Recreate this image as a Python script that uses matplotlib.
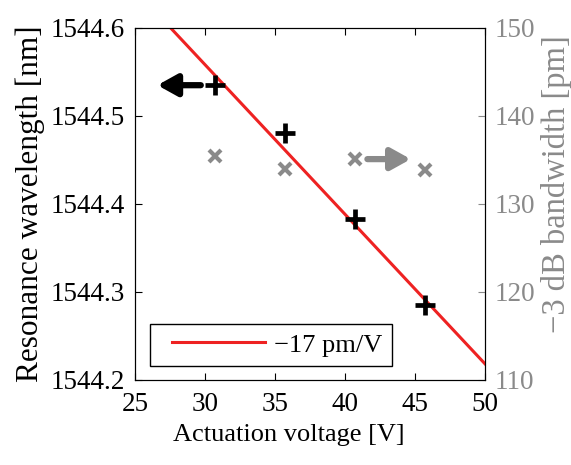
import numpy as np
import matplotlib.pyplot as plt
from matplotlib.legend_handler import HandlerLine2D

plt.rcParams['font.family'] = ['Liberation Serif', 'DejaVu Serif']

# data
voltage = [30.7, 35.7, 40.7, 45.7]
wavelength = [1544.535, 1544.481, 1544.383, 1544.285]
bandwidth = [135.5, 134.0, 135.1, 133.9]

# linear fit: -17 pm/V
slope = -0.017
fit_x = np.array([25.0, 50.0])
fit_y = 1544.6 + slope * (fit_x - 27.55)

gray = '#8a8a8a'

fig = plt.figure(figsize=(5.71, 4.65), dpi=100)
ax = fig.add_axes([0.2364, 0.1828, 0.613, 0.757])
ax2 = ax.twinx()

ln, = ax.plot(fit_x, fit_y, color='#ee2222', lw=2.2, label='\u221217 pm/V', zorder=3)
ax.plot(voltage, wavelength, ls='none', marker='+', ms=15, mew=3.4, color='black', zorder=4)
ax2.plot(voltage, bandwidth, ls='none', marker='x', ms=9, mew=3.0, color=gray)

ax.set_xlim(25, 50)
ax.set_ylim(1544.2, 1544.6)
ax2.set_ylim(110, 150)
ax.set_xticks([25, 30, 35, 40, 45, 50])
ax.set_yticks([1544.2, 1544.3, 1544.4, 1544.5, 1544.6])
ax.set_yticklabels(['1544.2', '1544.3', '1544.4', '1544.5', '1544.6'])
ax2.set_yticks([110, 120, 130, 140, 150])

ax.tick_params(direction='in', length=5, labelsize=19.5, top=True, pad=7)
ax.tick_params(axis='x', pad=9)
ax2.tick_params(direction='in', length=5, labelsize=19.5, colors=gray, pad=7)
ax2.spines['right'].set_color('black')

ax.set_xlabel('Actuation voltage [V]', fontsize=19, labelpad=5)
ax.xaxis.label.set_x(0.44)
ax.set_ylabel('Resonance wavelength [nm]', fontsize=22.5, labelpad=4)
ax2.set_ylabel('\u22123 dB bandwidth [pm]', fontsize=23.5, color=gray, labelpad=4)
ax2.yaxis.label.set_y(0.557)

# arrows pointing to the corresponding axes
arrow_style = '-|>,head_length=0.45,head_width=0.25'
ax.annotate('', xy=(26.6, 1544.535), xytext=(29.7, 1544.535),
            arrowprops=dict(arrowstyle=arrow_style, color='black', lw=4.5, mutation_scale=26,
                            shrinkA=0, shrinkB=0))
ax2.annotate('', xy=(44.7, 135.1), xytext=(41.6, 135.1),
             arrowprops=dict(arrowstyle=arrow_style, color=gray, lw=4.5, mutation_scale=26,
                             shrinkA=0, shrinkB=0))

leg = ax.legend(handles=[ln], loc='lower left', fontsize=19, handlelength=4.0,
                handler_map={ln: HandlerLine2D(xpad=0.5)},
                fancybox=False, edgecolor='black', framealpha=1,
                bbox_to_anchor=(0.043, 0.04), borderaxespad=0, handletextpad=0.35,
                borderpad=0.35)
leg.get_frame().set_linewidth(1.0)
leg.set_zorder(5)

fig.savefig('out.png', dpi=100)
